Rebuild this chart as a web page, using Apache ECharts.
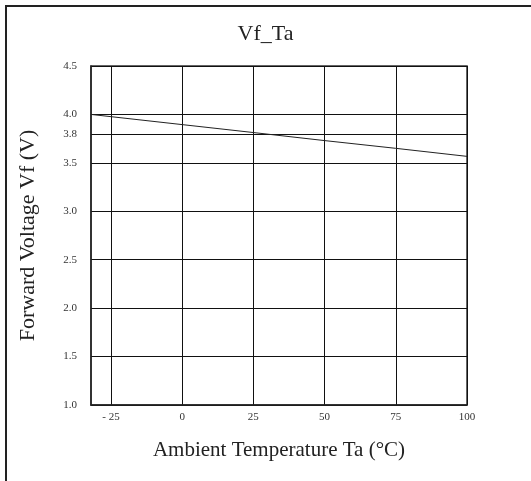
<!DOCTYPE html>
<html><head><meta charset="utf-8">
<script src="https://cdn.jsdelivr.net/npm/echarts@6/dist/echarts.min.js"></script>
<style>html,body{margin:0;padding:0;background:#fff}#c{width:531px;height:481px}</style>
</head><body><div id="c"></div>
<script>
var xTicks = [-25, 0, 25, 50, 75, 100];
var yTicks = [1.0, 1.5, 2.0, 2.5, 3.0, 3.5, 3.8, 4.0, 4.5];
var temps = [-32, 0, 25, 50, 75, 100];
var vf = [4.0, 3.895, 3.813, 3.73, 3.65, 3.567];

var chart = echarts.init(document.getElementById('c'));
var serif = 'Liberation Serif';
chart.setOption({
  backgroundColor: '#fff',
  animation: false,
  title: {
    text: 'Vf_Ta', left: 'center', top: 18,
    textStyle: {fontFamily: serif, fontSize: 22, fontWeight: 'normal', color: '#222'}
  },
  grid: {left: 91, right: 64, top: 66, bottom: 76, show: true, borderColor: '#333', borderWidth: 1.5},
  graphic: [
    {type: 'line', shape: {x1: 5, y1: 6, x2: 531, y2: 6}, style: {stroke: '#222', lineWidth: 2}},
    {type: 'line', shape: {x1: 6, y1: 5, x2: 6, y2: 481}, style: {stroke: '#222', lineWidth: 2}}
  ],
  xAxis: {
    type: 'value', min: -32, max: 100,
    name: 'Ambient Temperature Ta (°C)', nameLocation: 'middle', nameGap: 35,
    nameTextStyle: {fontFamily: serif, fontSize: 21, color: '#222'},
    axisLine: {show: true, onZero: false, lineStyle: {color: '#222', width: 1.5}},
    axisTick: {show: false, customValues: xTicks},
    axisLabel: {customValues: xTicks, fontFamily: serif, fontSize: 11, color: '#333', margin: 7,
      formatter: function (v) { return v < 0 ? '- ' + Math.abs(v) : String(v); }},
    splitLine: {show: true, lineStyle: {color: '#111', width: 1}}
  },
  yAxis: {
    type: 'value', min: 1.0, max: 4.5,
    name: 'Forward Voltage Vf (V)', nameLocation: 'middle', nameGap: 52,
    nameTextStyle: {fontFamily: serif, fontSize: 22, color: '#222'},
    axisLine: {show: true, onZero: false, lineStyle: {color: '#222', width: 1.5}},
    axisTick: {show: false, customValues: yTicks},
    axisLabel: {customValues: yTicks, fontFamily: serif, fontSize: 11, color: '#333', margin: 14,
      formatter: function (v) { return v.toFixed(1); }},
    splitLine: {show: true, lineStyle: {color: '#111', width: 1}}
  },
  series: [{
    type: 'line', data: temps.map(function (t, i) { return [t, vf[i]]; }),
    showSymbol: false, symbol: 'none', lineStyle: {color: '#222', width: 1}
  }]
});
</script></body></html>
